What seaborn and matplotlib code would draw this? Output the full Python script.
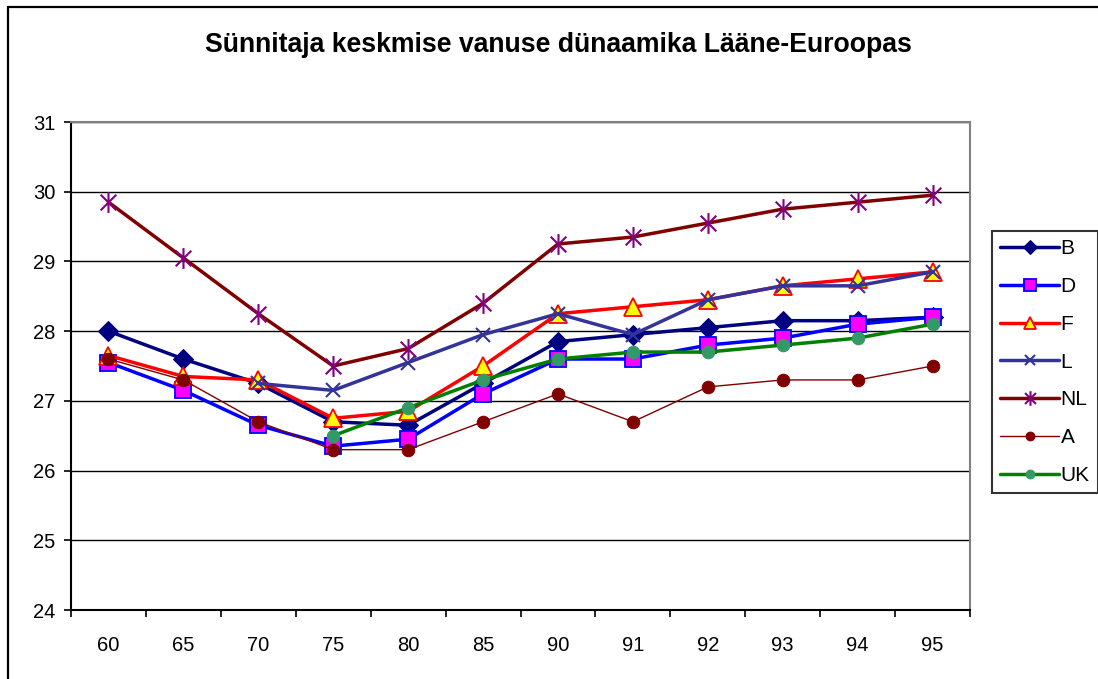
import numpy as np
import pandas as pd
import matplotlib
matplotlib.use("Agg")
import matplotlib.pyplot as plt
from matplotlib.patches import Rectangle
from matplotlib.path import Path
import seaborn as sns

sns.set_theme(style="white")
plt.rcParams['font.family'] = ['Liberation Sans', 'DejaVu Sans']
plt.rcParams['text.color'] = 'black'
plt.rcParams['xtick.color'] = 'black'
plt.rcParams['ytick.color'] = 'black'

# andmed
aastad = ['60', '65', '70', '75', '80', '85', '90', '91', '92', '93', '94', '95']
B = [28.0, 27.6, 27.25, 26.7, 26.65, 27.25, 27.85, 27.95, 28.05, 28.15, 28.15, 28.2]
D = [27.55, 27.15, 26.65, 26.35, 26.45, 27.1, 27.6, 27.6, 27.8, 27.9, 28.1, 28.2]
F = [27.65, 27.35, 27.3, 26.75, 26.85, 27.5, 28.25, 28.35, 28.45, 28.65, 28.75, 28.85]
L = [np.nan, np.nan, 27.25, 27.15, 27.55, 27.95, 28.25, 27.95, 28.45, 28.65, 28.65, 28.85]
NL = [29.85, 29.05, 28.25, 27.5, 27.75, 28.4, 29.25, 29.35, 29.55, 29.75, 29.85, 29.95]
A = [27.6, 27.3, 26.7, 26.3, 26.3, 26.7, 27.1, 26.7, 27.2, 27.3, 27.3, 27.5]
UK = [np.nan, np.nan, np.nan, 26.5, 26.9, 27.3, 27.6, 27.7, 27.7, 27.8, 27.9, 28.1]

df = pd.DataFrame({'aasta': aastad, 'B': B, 'D': D, 'F': F, 'L': L,
                   'NL': NL, 'A': A, 'UK': UK})

# tärn: X + püstkriips (nagu Exceli markeril)
taht = Path([(0, -1), (0, 1), (-0.75, -0.75), (0.75, 0.75), (-0.75, 0.75), (0.75, -0.75)],
            [Path.MOVETO, Path.LINETO, Path.MOVETO, Path.LINETO, Path.MOVETO, Path.LINETO])

# stiilid
stiilid = {
    'B':  dict(color='#000080', lw=2.5, marker='D', ms=10, mfc='#000080', mec='#000080'),
    'D':  dict(color='#0000FF', lw=2.5, marker='s', ms=12, mfc='#FF00FF', mec='#0000FF', mew=1.3),
    'F':  dict(color='#FF0000', lw=2.5, marker='^', ms=13, mfc='#FFFF00', mec='#FF0000', mew=1.3),
    'L':  dict(color='#333399', lw=2.5, marker='x', ms=10, mec='#333399', mew=1.5),
    'NL': dict(color='#800000', lw=2.5, marker=taht, ms=15, mec='#800080', mew=1.5),
    'A':  dict(color='#800000', lw=1.0, marker='o', ms=9, mfc='#800000', mec='#800000'),
    'UK': dict(color='#008000', lw=2.5, marker='o', ms=9, mfc='#339966', mec='#339966'),
}

fig = plt.figure(figsize=(10.98, 6.79), dpi=100)
ax = fig.add_axes([71 / 1098, 1 - 610 / 679, 899 / 1098, 488 / 679])

for riik, st in stiilid.items():
    sns.lineplot(data=df, x='aasta', y=riik, ax=ax, label=riik, sort=False,
                 errorbar=None, **st)

ax.set_xlim(-0.5, len(aastad) - 0.5)
ax.set_ylim(24, 31)
ax.set_yticks(range(24, 32))
ax.set_xticks(range(len(aastad)))
ax.set_xticklabels(aastad)
ax.set_xticks(np.arange(-0.5, len(aastad), 1), minor=True)
ax.set_xlabel('')
ax.set_ylabel('')

ax.grid(axis='y', color='black', lw=1)
ax.set_axisbelow(True)
ax.tick_params(axis='x', which='major', length=0, pad=19, labelsize=14.5)
ax.tick_params(axis='x', which='minor', length=5, width=1.2, color='black', direction='out', bottom=True)
ax.tick_params(axis='y', length=5, width=1.2, color='black', direction='out', left=True,
               pad=6, labelsize=14.5)
for s in ['left', 'bottom']:
    ax.spines[s].set_color('black')
    ax.spines[s].set_linewidth(1.5)
for s in ['top', 'right']:
    ax.spines[s].set_color('#808080')
    ax.spines[s].set_linewidth(1.5)

ax.get_legend().remove()
h, l = ax.get_legend_handles_labels()
leg = fig.legend(h, l, loc='upper left', bbox_to_anchor=(992 / 1098, 1 - 231 / 679),
                 fontsize=15, frameon=True, fancybox=False, handlelength=2.8,
                 handletextpad=0.1, labelspacing=0.9, borderpad=0.4,
                 borderaxespad=0, markerscale=0.7)
leg.get_frame().set_edgecolor('black')
leg.get_frame().set_linewidth(1.5)

fig.text(558 / 1098, 1 - 45 / 679, 'Sünnitaja keskmise vanuse dünaamika Lääne-Euroopas',
         ha='center', va='center', fontsize=19.2, fontweight='bold')

# välimine raam
fig.patches.append(Rectangle((8 / 1098, -0.1), 1.2, 1 - 7 / 679 + 0.1,
                             transform=fig.transFigure, fill=False,
                             edgecolor='black', lw=1.6))

fig.savefig('out.png', dpi=100, facecolor='white')
